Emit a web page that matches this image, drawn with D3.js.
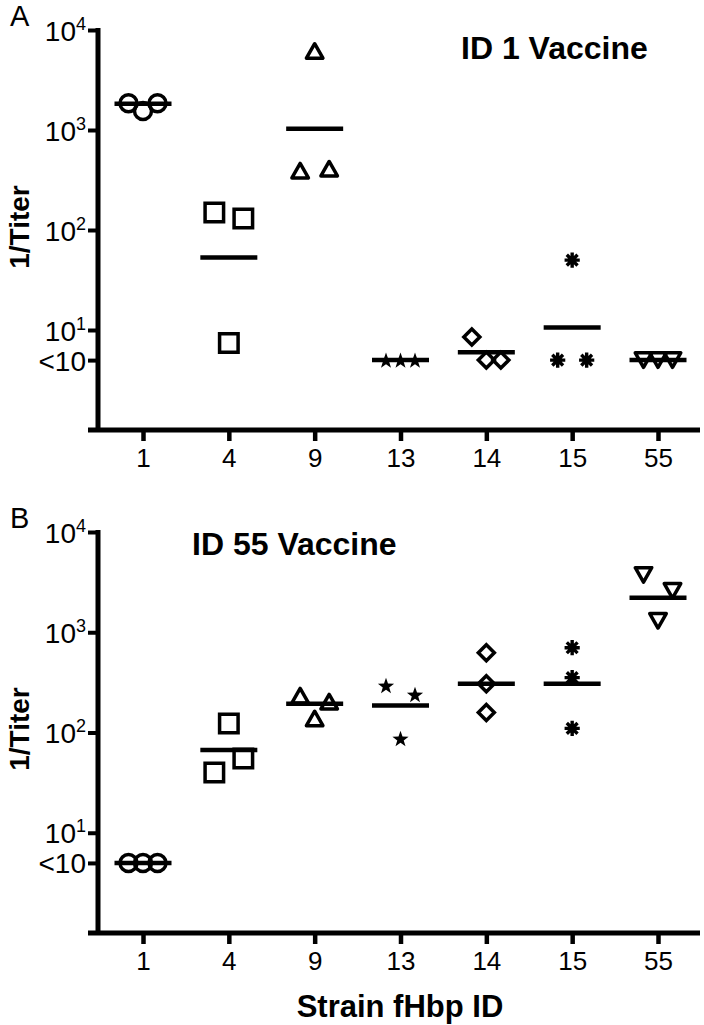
<!DOCTYPE html>
<html>
<head>
<meta charset="utf-8">
<script src="https://cdn.jsdelivr.net/npm/d3@7"></script>
<style>
  html, body { margin: 0; padding: 0; background: #fff; }
  svg { display: block; }
  text { font-family: "Liberation Sans", Arial, sans-serif; fill: #000; }
</style>
</head>
<body>
<svg id="chart" width="704" height="1025"></svg>
<script>
// ---- data ----
const strains = ["1", "4", "9", "13", "14", "15", "55"];
const shapes = ["circle", "square", "triangle", "star", "diamond", "asterisk", "triangleDown"];

// Panel A: ID 1 Vaccine (values < 10 plotted at 5)
const valuesA = [
  [1850, 1550, 1850],
  [150, 130, 7.4],
  [6170, 392, 410],
  [5, 5, 5],
  [8.5, 5, 5],
  [5, 50, 5],
  [5, 5, 5]
];
const meansA = [1830, 53, 1030, 5, 6, 10.6, 5];

// Panel B: ID 55 Vaccine
const valuesB = [
  [5, 5, 5],
  [40, 123, 55],
  [233, 138, 203],
  [294, 87, 239],
  [625, 307, 158],
  [701, 353, 110],
  [3734, 1302, 2588]
];
const meansB = [5, 67, 194, 186, 307, 307, 2205];

const yTickValues = [10000, 1000, 100, 10, 5];
const yTickBase = ["10", "10", "10", "10", "<10"];
const yTickExp = ["4", "3", "2", "1", ""];

const panels = [
  { letter: "A", title: "ID 1 Vaccine", values: valuesA, means: meansA, top: 30, bottom: 430, titleX: 461, titleY: 59 },
  { letter: "B", title: "ID 55 Vaccine", values: valuesB, means: meansB, top: 532, bottom: 933, titleX: 192, titleY: 555 }
];

// ---- drawing ----
const svg = d3.select("#chart");
const x = d3.scalePoint().domain(strains).range([143, 658]);
const axisLeftX = 98;
const laneStep = 14.5;

function symbolPath(shape) {
  switch (shape) {
    case "triangle": { const w = 16.5, h = 14.5; return `M0,${-h/2}L${w/2},${h/2}L${-w/2},${h/2}Z`; }
    case "triangleDown": { const w = 16.5, h = 14.5; return `M0,${h/2}L${w/2},${-h/2}L${-w/2},${-h/2}Z`; }
    case "diamond": { const r = 8; return `M0,${-r}L${r},0L0,${r}L${-r},0Z`; }
    case "square": { const s = 18.5 / 2; return `M${-s},${-s}H${s}V${s}H${-s}Z`; }
    case "star": {
      const ro = 8.5, ri = 3.4; let p = "";
      for (let k = 0; k < 10; k++) {
        const r = k % 2 ? ri : ro;
        const a = -Math.PI / 2 + k * Math.PI / 5;
        p += (k ? "L" : "M") + (r * Math.cos(a)).toFixed(2) + "," + (r * Math.sin(a) + 0.8).toFixed(2);
      }
      return p + "Z";
    }
    case "asterisk": {
      const r = 7.6; let p = "";
      for (let k = 0; k < 4; k++) {
        const a = k * Math.PI / 4;
        p += `M${(-r*Math.cos(a)).toFixed(2)},${(-r*Math.sin(a)).toFixed(2)}L${(r*Math.cos(a)).toFixed(2)},${(r*Math.sin(a)).toFixed(2)}`;
      }
      return p;
    }
  }
  return "";
}

function drawSymbol(g, shape, cx, cy) {
  if (shape === "circle") {
    g.append("circle").attr("cx", cx).attr("cy", cy).attr("r", 8.5)
      .attr("fill", "none").attr("stroke", "#000").attr("stroke-width", 3.5);
  } else if (shape === "star") {
    g.append("path").attr("d", symbolPath(shape)).attr("transform", `translate(${cx},${cy})`)
      .attr("fill", "#000");
  } else if (shape === "asterisk") {
    g.append("path").attr("d", symbolPath(shape)).attr("transform", `translate(${cx},${cy})`)
      .attr("fill", "none").attr("stroke", "#000").attr("stroke-width", 3.4);
    g.append("circle").attr("cx", cx).attr("cy", cy).attr("r", 4.2).attr("fill", "#000");
  } else {
    const round = shape.startsWith("triangle");
    g.append("path").attr("d", symbolPath(shape)).attr("transform", `translate(${cx},${cy})`)
      .attr("fill", "none").attr("stroke", "#000").attr("stroke-width", 3.5)
      .attr("stroke-linejoin", round ? "round" : "miter");
  }
}

// lanes: cluster colliding points, spread them by data order
function lanes(ys) {
  const idx = ys.map((v, i) => i).sort((a, b) => ys[a] - ys[b]);
  const clusters = [];
  let cur = [idx[0]];
  for (let k = 1; k < idx.length; k++) {
    if (ys[idx[k]] - ys[idx[k - 1]] < 26) cur.push(idx[k]);
    else { clusters.push(cur); cur = [idx[k]]; }
  }
  clusters.push(cur);
  const out = new Array(ys.length).fill(0);
  const patterns = { 1: [0], 2: [-1, 1], 3: [-1, 0, 1] };
  clusters.forEach(c => {
    const sorted = c.slice().sort((a, b) => a - b);
    sorted.forEach((i, j) => { out[i] = patterns[c.length][j]; });
  });
  return out;
}

panels.forEach(P => {
  const y = d3.scaleLog().domain([1, 10000]).range([P.bottom, P.top]);
  const g = svg.append("g");

  // y axis
  const yAxis = d3.axisLeft(y).tickValues(yTickValues).tickSize(10).tickSizeOuter(0).tickFormat("");
  const ya = g.append("g").attr("transform", `translate(${axisLeftX},0)`).call(yAxis);
  ya.select(".domain").attr("stroke", "#000").attr("stroke-width", 5)
    .attr("d", `M0,${P.top - 2}V${P.bottom}`);
  ya.selectAll(".tick line").attr("stroke", "#000").attr("stroke-width", 4).attr("x1", 0).attr("x2", -10);
  ya.selectAll(".tick").each(function (d, i) {
    const t = d3.select(this).append("text")
      .attr("x", -12).attr("y", 10)
      .attr("text-anchor", "end")
      .style("font-size", "28px");
    t.append("tspan").text(yTickBase[i]);
    if (yTickExp[i]) {
      t.append("tspan").attr("dy", -11).style("font-size", "18px").text(yTickExp[i]);
    }
  });

  // x axis
  const xAxis = d3.axisBottom(x).tickSize(11).tickSizeOuter(0).tickPadding(8);
  const xa = g.append("g").attr("transform", `translate(0,${P.bottom})`).call(xAxis);
  xa.select(".domain").attr("stroke", "#000").attr("stroke-width", 5).attr("d", "M88,0H700");
  xa.selectAll(".tick line").attr("stroke", "#000").attr("stroke-width", 4.5);
  xa.selectAll(".tick text").style("font-size", "26px").attr("fill", "#000")
    .style("font-family", "'Liberation Sans', Arial, sans-serif");

  // y axis title
  g.append("text")
    .attr("transform", `translate(29,${P.top + 197}) rotate(-90)`)
    .attr("text-anchor", "middle")
    .style("font-size", "28px").style("font-weight", "bold")
    .text("1/Titer");

  // panel letter
  g.append("text").attr("x", 10).attr("y", P.top - 4)
    .style("font-size", "29px").text(P.letter);

  // panel title
  g.append("text").attr("x", P.titleX).attr("y", P.titleY)
    .style("font-size", "32px").style("font-weight", "bold").text(P.title);

  // points
  strains.forEach((s, si) => {
    const vals = P.values[si];
    const ys = vals.map(v => y(v));
    const ln = lanes(ys);
    vals.forEach((v, i) => {
      drawSymbol(g, shapes[si], x(s) + ln[i] * laneStep, y(v));
    });
    // mean line
    g.append("line")
      .attr("x1", x(s) - 28.5).attr("x2", x(s) + 28.5)
      .attr("y1", y(P.means[si])).attr("y2", y(P.means[si]))
      .attr("stroke", "#000").attr("stroke-width", 4.5);
  });
});

// x axis title
svg.append("text").attr("x", 400).attr("y", 1017)
  .attr("text-anchor", "middle")
  .style("font-size", "31px").style("font-weight", "bold")
  .text("Strain fHbp ID");
</script>
</body>
</html>
